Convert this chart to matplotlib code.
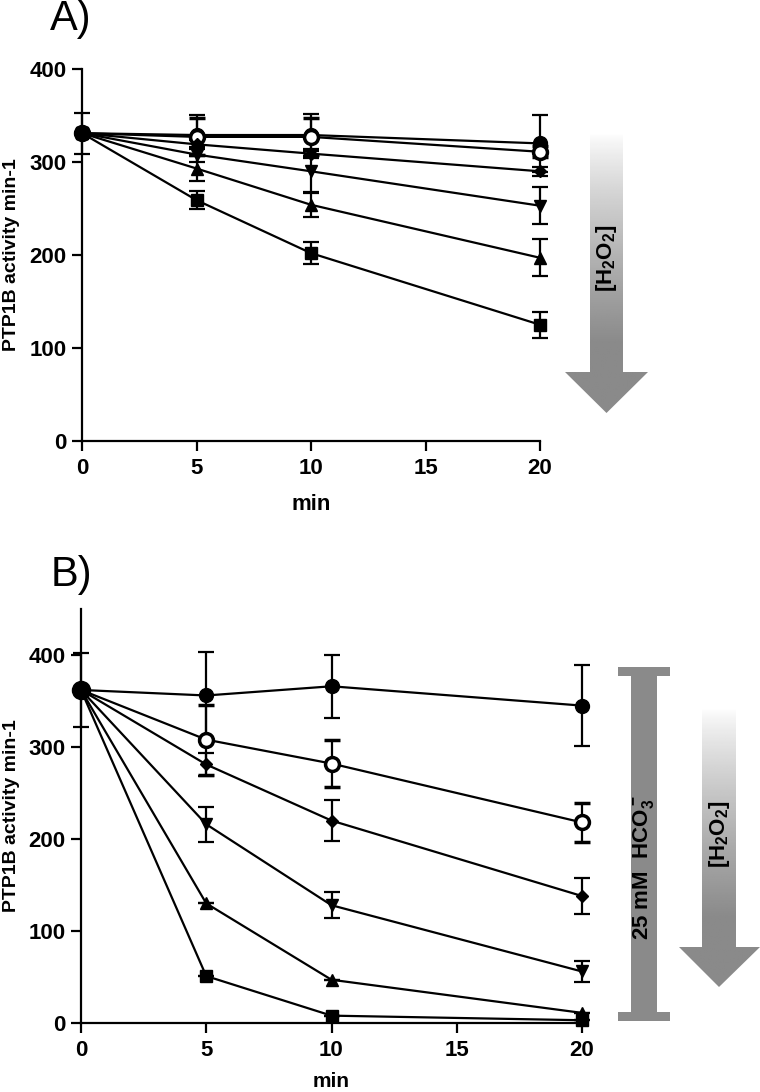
import numpy as np
import matplotlib
matplotlib.use("Agg")
import matplotlib.pyplot as plt
from matplotlib.patches import Polygon, Rectangle

plt.rcParams['font.family'] = ['Liberation Sans', 'DejaVu Sans']
plt.rcParams['mathtext.default'] = 'regular'

# time points (min)
time = [0, 5, 10, 20]
xticks = [0, 5, 10, 15, 20]
yticks = [0, 100, 200, 300, 400]

# panel A: PTP1B activity without bicarbonate
a_ctrl = [331, 329, 329, 320]
a_ctrl_err = [22, 22, 23, 31]
a_open = [331, 327, 327, 311]
a_open_err = [0, 20, 20, 6]
a_diam = [331, 319, 309, 290]
a_diam_err = [0, 5, 5, 5]
a_vtri = [331, 308, 290, 253]
a_vtri_err = [0, 8, 22, 20]
a_tri = [331, 293, 254, 197]
a_tri_err = [0, 13, 13, 20]
a_sq = [331, 259, 202, 125]
a_sq_err = [0, 10, 12, 14]

# panel B: with 25 mM HCO3-
b_ctrl = [362, 356, 366, 345]
b_ctrl_err = [40, 47, 34, 44]
b_open = [362, 308, 282, 218]
b_open_err = [0, 38, 26, 21]
b_diam = [362, 281, 220, 138]
b_diam_err = [0, 12, 22, 20]
b_vtri = [362, 216, 128, 56]
b_vtri_err = [0, 19, 14, 11]
b_tri = [362, 130, 47, 11]
b_tri_err = [0, 0, 0, 0]
b_sq = [362, 51, 8, 3]
b_sq_err = [0, 0, 0, 0]

styles = [
    dict(marker='o', ms=10, mfc='black'),
    dict(marker='o', ms=10, mfc='white', mew=2.5),
    dict(marker='D', ms=6.5, mfc='black'),
    dict(marker='v', ms=8.5, mfc='black'),
    dict(marker='^', ms=8.5, mfc='black'),
    dict(marker='s', ms=8.5, mfc='black'),
]

fig = plt.figure(figsize=(7.6, 10.92), dpi=100)


def draw_panel(ax, series, ylim, start_ms, xlabel_y, ylabel_x, xl_size=16):
    for (vals, err), st in zip(series, styles):
        ax.errorbar(time, vals, yerr=err, color='black', mec='black', lw=1.6,
                    elinewidth=1.6, capsize=5.5, capthick=1.6, clip_on=False,
                    zorder=3, **st)
    # large shared starting point
    ax.plot(time[:1], series[0][0][:1], 'o', color='black', ms=start_ms,
            clip_on=False, zorder=4)
    ax.set_xlim(0, 20)
    ax.set_ylim(*ylim)
    ax.set_xticks(xticks)
    ax.set_yticks(yticks)
    for s in ['top', 'right']:
        ax.spines[s].set_visible(False)
    for s in ['left', 'bottom']:
        ax.spines[s].set_linewidth(1.6)
    ax.tick_params(direction='out', length=7.5, width=1.6, labelsize=16)
    ax.tick_params(axis='x', pad=5)
    for lab in ax.get_xticklabels() + ax.get_yticklabels():
        lab.set_fontweight('bold')
    ax.set_xlabel('min', fontsize=xl_size, fontweight='bold')
    ax.set_ylabel('PTP1B activity min-1', fontsize=14, fontweight='bold')
    ax.xaxis.set_label_coords(0.5, xlabel_y)
    ax.yaxis.set_label_coords(ylabel_x, 0.5)


ax1 = fig.add_axes([82 / 760, 1 - 441 / 1092, 458 / 760, 372 / 1092])
draw_panel(ax1, [(a_ctrl, a_ctrl_err), (a_open, a_open_err), (a_diam, a_diam_err),
                 (a_vtri, a_vtri_err), (a_tri, a_tri_err), (a_sq, a_sq_err)],
           (0, 400), 11, -0.142, -0.135)

ax2 = fig.add_axes([81 / 760, 1 - 1023 / 1092, 501 / 760, 414 / 1092])
draw_panel(ax2, [(b_ctrl, b_ctrl_err), (b_open, b_open_err), (b_diam, b_diam_err),
                 (b_vtri, b_vtri_err), (b_tri, b_tri_err), (b_sq, b_sq_err)],
           (0, 450), 13, -0.118, -0.122, xl_size=15)

fig.text(50 / 760, 1 - 19 / 1092, 'A)', fontsize=30, va='center', ha='left')
fig.text(51 / 760, 1 - 575 / 1092, 'B)', fontsize=30, va='center', ha='left')

# overlay in pixel coordinates for the annotation arrows
ov = fig.add_axes([0, 0, 1, 1])
ov.set_xlim(0, 760)
ov.set_ylim(1092, 0)
ov.axis('off')
ov.patch.set_alpha(0)

gray = '#8a8a8a'


def gradient_arrow(x0, x1, top, base, hx0, hx1, tip):
    cx = (x0 + x1) / 2
    verts = [(x0, top), (x1, top), (x1, base), (hx1, base), (cx, tip),
             (hx0, base), (x0, base), (x0, top)]
    poly = Polygon(verts, closed=True, facecolor='none', edgecolor='none')
    ov.add_patch(poly)
    g = np.linspace(0, 1, 256)
    g = np.clip(g / 0.75, 0, 1) ** 0.8
    rgb = 1 - (1 - 0x8a / 255) * g
    img = np.repeat(rgb[:, None], 2, axis=1)
    im = ov.imshow(img, cmap='gray', vmin=0, vmax=1, aspect='auto',
                   extent=(hx0, hx1, tip, top), interpolation='bilinear')
    im.set_clip_path(poly)
    return cx


cxa = gradient_arrow(590, 623, 133, 372, 565, 648, 413)
ov.text(cxa, 258, '[H$_2$O$_2$]', rotation=90, ha='center', va='center',
        fontsize=16, fontweight='bold')

# bicarbonate bar
ov.add_patch(Rectangle((631, 667), 26, 354, color=gray, lw=0))
ov.add_patch(Rectangle((618, 667), 52, 9, color=gray, lw=0))
ov.add_patch(Rectangle((618, 1012), 52, 9, color=gray, lw=0))
ov.text(644, 868, '25 mM  HCO$_3^-$', rotation=90, ha='center', va='center',
        fontsize=16, fontweight='bold')

cxb = gradient_arrow(702, 736, 708, 947, 679, 760, 987)
ov.text(cxb, 834, '[H$_2$O$_2$]', rotation=90, ha='center', va='center',
        fontsize=16, fontweight='bold')

fig.savefig('out.png', dpi=100)
